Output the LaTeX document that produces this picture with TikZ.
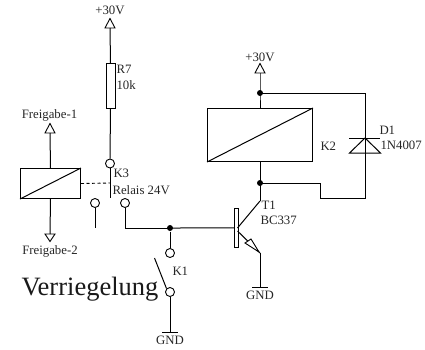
\documentclass[tikz,border=0pt]{standalone}
\usepackage{fontspec}
\setmainfont{Liberation Serif}
\begin{document}
\begin{tikzpicture}[x=1pt,y=-1pt,line width=1pt,line join=miter,
  lbl/.style={inner sep=0pt,font=\fontsize{12.8}{13}\selectfont,text=black!85},
  terminal/.style={circle,draw,line width=0.9pt,fill=white,minimum size=9pt,inner sep=0pt},
  junction/.style={circle,fill=black,minimum size=6pt,inner sep=0pt},
  boxpart/.style={draw,fill=white,inner sep=0pt,anchor=north west},
  supply/.style={draw,fill=white,line width=0.9pt}]
\useasboundingbox (0,0) rectangle (425,349);
% named points
\coordinate (vtop) at (110,28);
\coordinate (ltop) at (50,133);
\coordinate (lbot) at (50,234);
\coordinate (rtop) at (260,73);
\coordinate (k1gnd) at (170,332);
\coordinate (tgnd) at (260,287);
\coordinate (te) at (260,253);
\coordinate (tc) at (260,201);
\coordinate (nc) at (95,228);
\coordinate (contact) at (125,228);
\coordinate (cr1) at (365,93);
\coordinate (cr2) at (365,198);
\coordinate (cr3) at (320,198);
\coordinate (cr4) at (320,183);
% left relay, K2, R7
\node[boxpart,minimum width=60pt,minimum height=30pt] (relL) at (20,168) {};
\node[boxpart,minimum width=105pt,minimum height=53pt] (relK) at (207,108) {};
\node[boxpart,minimum width=9pt,minimum height=45pt] (r7) at (105.5,63) {};
\draw (relL.south west) -- (relL.north east);
\draw (relK.south west) -- (relK.north east);
% terminals
\node[terminal] (k3a) at (110,163.5) {};
\node[terminal] (k3b) at (95,203) {};
\node[terminal] (k3c) at (125,203) {};
\node[terminal] (k1a) at (170,253) {};
\node[terminal] (k1b) at (170,292) {};
\node[junction] (jb) at (170,228) {};
\node[junction] (jt) at (260,93) {};
\node[junction] (jm) at (260,183) {};
% supply arrows
\draw[supply] (vtop) ++(-5,0) -- ++(10,0) -- (110,18.5) -- cycle;
\draw[supply] (ltop) ++(-5,0) -- ++(10,0) -- (50,123.5) -- cycle;
\draw[supply] (lbot) ++(-5,0) -- ++(10,0) -- (50,241.5) -- cycle;
\draw[supply] (rtop) ++(-5,0) -- ++(10,0) -- (260,63.5) -- cycle;
% wires
\draw (vtop) -- (r7.north);
\draw (r7.south) -- (k3a.north);
\draw (110,168) -- (110,198);
\draw (relL.north) -- (ltop);
\draw (relL.south) -- (lbot);
\draw[dashed,dash pattern=on 3pt off 2.5pt,line width=0.9pt] (relL.east) -- (110,183);
\draw (k3b.south) -- (nc);
\draw (k3c.south) |- (jb.center);
\draw (jb) -- (k1a.north);
\draw (k1b.south) -- (k1gnd);
\draw (162,332) -- (178,332);
\draw (154.5,258) -- (k1b.north west);
% transistor
\node[boxpart,line width=0.9pt,minimum width=3.5pt,minimum height=39pt] (tbar) at (234,208) {};
\draw (jb.center) -- (tbar.west);
\draw (237.5,228) -- (tc);
\draw (237.5,231) -- (te);
\draw[fill=white,line width=0.9pt] (259,252) -- (245,243) -- (251,239) -- cycle;
\draw (te) -- (tgnd);
\draw (252,287) -- (268,287);
\draw (tc) -- (jm.center);
% K2 side
\draw (rtop) -- (jt.center) -- (relK.north -| jt);
\draw (relK.south -| jm) -- (jm.center);
\draw (jt.center) -- (cr1) -- (cr2) -- (cr3) -- (cr4) -- (jm.center);
\draw (349,138) -- (380,138);
\draw (365,138) -- (349.5,153) -- (380.5,153) -- cycle;
% labels
\node[lbl] (l1) at (110,10.5) {+30V};
\node[lbl,anchor=west] (l2) at (116,69.5) {R7};
\node[lbl,anchor=west] (l3) at (116,85) {10k};
\node[lbl] (l4) at (49.5,115.5) {Freigabe-1};
\node[lbl] (l5) at (50,251) {Freigabe-2};
\node[lbl,anchor=west] (l6) at (113,173) {K3};
\node[lbl,anchor=west] (l7) at (112,190) {Relais 24V};
\node[lbl,anchor=west] (l8) at (172,271.5) {K1};
\node[lbl] (l9) at (170,340.5) {GND};
\node[lbl] (l10) at (260,295.5) {GND};
\node[lbl,anchor=west] (l11) at (261,205.5) {T1};
\node[lbl,anchor=west] (l12) at (260,220.5) {BC337};
\node[lbl] (l13) at (260,57) {+30V};
\node[lbl,anchor=west] (l14) at (320,146) {K2};
\node[lbl,anchor=west] (l15) at (379,130) {D1};
\node[lbl,anchor=west] (l16) at (380,145) {1N4007};
\node[inner sep=0pt,anchor=base west,font=\fontsize{26.5}{27}\selectfont,text=black!90] (l17) at (21,295) {Verriegelung};
\end{tikzpicture}
\end{document}
